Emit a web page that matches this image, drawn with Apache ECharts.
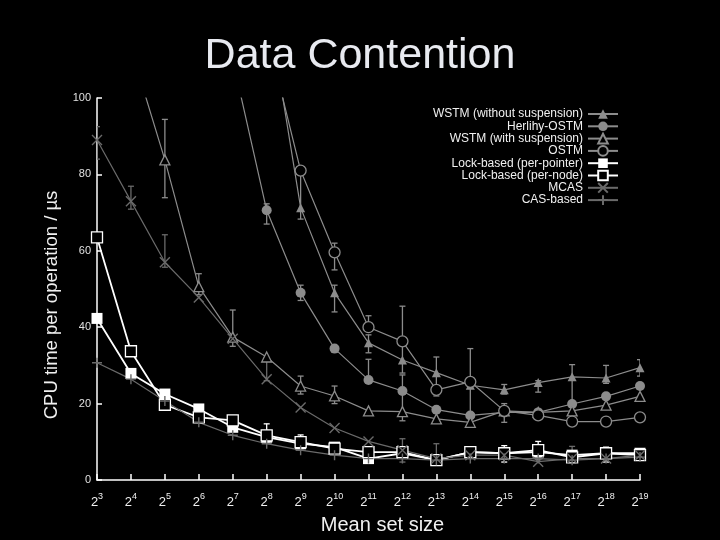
<!DOCTYPE html>
<html>
<head>
<meta charset="utf-8">
<script src="https://cdn.jsdelivr.net/npm/echarts@6/dist/echarts.min.js"></script>
<style>html,body{margin:0;padding:0;background:#000;}#c{width:720px;height:540px;}</style>
</head>
<body>
<div id="c"></div>
<script>
// x positions are exponents n of mean set size 2^n
const exponents = [3,4,5,6,7,8,9,10,11,12,13,14,15,16,17,18,19];
const seriesNames = ['WSTM (without suspension)','Herlihy-OSTM','WSTM (with suspension)','OSTM',
  'Lock-based (per-pointer)','Lock-based (per-node)','MCAS','CAS-based'];
const wstmWithout = [null,null,null,null,null,126,71.3,49,35.9,31.4,28.1,24.8,23.6,25.5,27,26.7,29.4];
const herlihyOstm = [null,null,null,null,110,70.6,49,34.4,26.2,23.3,18.4,16.9,17.7,17.7,19.9,21.9,24.6];
const wstmWith    = [null,113,83.8,50.6,37.4,32.2,24.6,22,18.1,17.9,16,15.1,18.1,17.7,18.1,19.6,21.9];
const ostm        = [null,null,null,null,null,117,81,59.6,40,36.3,23.6,25.7,18.1,16.9,15.3,15.3,16.4];
const lockPtr     = [42.3,27.9,22.5,18.6,13.8,11.2,9.5,8.6,5.6,7,5.2,7.3,7,7.3,6.5,7,7];
const lockNode    = [63.5,33.7,19.7,16.4,15.6,11.7,9.9,8.2,7.3,7.3,5.2,7.3,7,7.8,5.9,7,6.5];
const mcas        = [89,73,57,47.8,37,26.4,19,13.6,10.1,7.8,5.6,6.5,6.5,4.8,5.6,5.6,6.5];
const casBased    = [30.7,26.4,20.7,15.1,11.7,9.5,7.8,6.5,5.6,5.6,5.2,5.6,5.6,5.6,5.2,5.6,6];
// error bars: [exponent, low, high]
const errWstmWithout = [[9,68.3,81],[10,44,51],[11,33.3,38],[13,22,32.2],[15,22.5,25],[16,23,26],[17,17.3,30.2],[18,25.3,30],[19,27.2,31.5]];
const errHerlihy = [[8,67,72.3],[9,47,51],[11,26,31.6],[12,15.5,27.5],[15,15.1,20]];
const errWstmWith = [[5,73.9,94.4],[6,48.5,54],[7,35,44.5],[9,22.5,27.2],[10,20,24.6]];
const errOstm = [[10,55,62],[11,39,43],[12,28,45.5],[14,17,34.4]];
const errLockNode = [[8,10,14.7],[9,8.2,11.8],[15,4.7,9],[16,5.5,10.1],[18,4.7,8.6]];
const errMcas = [[3,84,92.5],[4,70.9,76.9],[5,55.7,64.2],[8,26,32],[12,4.7,10.8],[17,4.7,8.8]];
const errCas = [[13,4.5,9.5]];
const yTicks = [0,20,40,60,80,100];

const FONT = 'Liberation Sans, Arial, sans-serif';
const G1 = '#8c8c8c', G2 = '#6a6a6a', W = '#ffffff';

function pairs(vals){ return exponents.map((e,i)=>[e, vals[i]]); }
function lineSeries(name, vals, color, symbol, size, hollow, width){
  return {
    name, type:'line', data: pairs(vals), symbol, symbolSize: size, clip:true,
    connectNulls:false,
    lineStyle:{color, width},
    itemStyle: hollow ? {color:'#000', borderColor:color, borderWidth:1.3}
                      : {color, borderColor:color, borderWidth: symbol.indexOf('path')===0 ? 1.4 : 0},
    emphasis:{disabled:true}, z:3
  };
}
function renderErr(params, api){
  const x = api.value(0), lo = api.value(1), hi = api.value(2);
  const p1 = api.coord([x, lo]), p2 = api.coord([x, hi]);
  const w = 3;
  const style = {stroke: api.visual('color'), lineWidth: 1.3, fill:null};
  return {type:'group', children:[
    {type:'line', shape:{x1:p1[0],y1:p1[1],x2:p2[0],y2:p2[1]}, style},
    {type:'line', shape:{x1:p1[0]-w,y1:p1[1],x2:p1[0]+w,y2:p1[1]}, style},
    {type:'line', shape:{x1:p2[0]-w,y1:p2[1],x2:p2[0]+w,y2:p2[1]}, style}
  ]};
}
function errSeries(data, color){
  return {type:'custom', renderItem: renderErr, data, clip:true, itemStyle:{color}, z:2,
    encode:{x:0, y:[1,2]}, silent:true};
}
const XSYM = 'path://M0,0L10,10M10,0L0,10';
const PSYM = 'path://M5,0L5,10M0,5L10,5';

const chart = echarts.init(document.getElementById('c'));
chart.setOption({
  backgroundColor:'#000',
  animation:false,
  title:{text:'Data Contention', left:'center', top:30,
    textStyle:{color:'#e8eaf0', fontSize:43, fontWeight:'normal', fontFamily:FONT}},
  legend:{
    data: seriesNames, orient:'vertical', align:'right', right:96, top:103,
    itemWidth:30, itemHeight:12, itemGap:0.3, selectedMode:false,
    textStyle:{color:'#f0f0f0', fontSize:12, fontFamily:FONT, lineHeight:12}
  },
  grid:{left:97, right:80, top:98, bottom:55},
  xAxis:{type:'value', min:3, max:19, interval:1,
    name:'Mean set size', nameLocation:'middle', nameGap:35,
    nameTextStyle:{color:'#f0f0f0', fontSize:20, fontFamily:FONT, padding:[0,0,0,28]},
    axisLine:{lineStyle:{color:'#fff', width:1.5}},
    axisTick:{inside:true, length:6, lineStyle:{color:'#fff', width:1.5}},
    splitLine:{show:false},
    axisLabel:{margin:12, formatter: v => '{b|2}{s|' + v + '}',
      rich:{b:{fontSize:13, color:'#f0f0f0', fontFamily:FONT, lineHeight:17, verticalAlign:'bottom'},
            s:{fontSize:9, color:'#f0f0f0', fontFamily:FONT, lineHeight:9, verticalAlign:'top'}}}
  },
  yAxis:{type:'value', min:0, max:100, interval:20,
    name:'CPU time per operation / µs', nameLocation:'middle', nameGap:25,
    nameTextStyle:{color:'#f0f0f0', fontSize:18.5, fontFamily:FONT, padding:[0,32,0,0]},
    axisLine:{show:true, lineStyle:{color:'#fff', width:1.5}},
    axisTick:{show:true, inside:true, length:5, lineStyle:{color:'#fff', width:1.5}},
    splitLine:{show:false},
    axisLabel:{color:'#e0e0e0', fontSize:11, fontFamily:FONT, margin:6,
      formatter: v => yTicks.indexOf(v) >= 0 ? String(v) : ''}
  },
  series:[
    errSeries(errWstmWithout, G1), errSeries(errHerlihy, G1), errSeries(errWstmWith, G1),
    errSeries(errOstm, G1), errSeries(errLockNode, W), errSeries(errMcas, G2), errSeries(errCas, G2),
    lineSeries(seriesNames[0], wstmWithout, G1, 'triangle', 9, false, 1.2),
    lineSeries(seriesNames[1], herlihyOstm, G1, 'circle', 10, false, 1.2),
    lineSeries(seriesNames[2], wstmWith, G1, 'triangle', 10, true, 1.2),
    lineSeries(seriesNames[3], ostm, G1, 'circle', 11, true, 1.2),
    lineSeries(seriesNames[4], lockPtr, W, 'rect', 11, false, 1.8),
    lineSeries(seriesNames[5], lockNode, W, 'rect', 11, true, 1.8),
    lineSeries(seriesNames[6], mcas, G2, XSYM, 10, false, 1.2),
    lineSeries(seriesNames[7], casBased, G2, PSYM, 10, false, 1.2)
  ]
});
</script>
</body>
</html>
